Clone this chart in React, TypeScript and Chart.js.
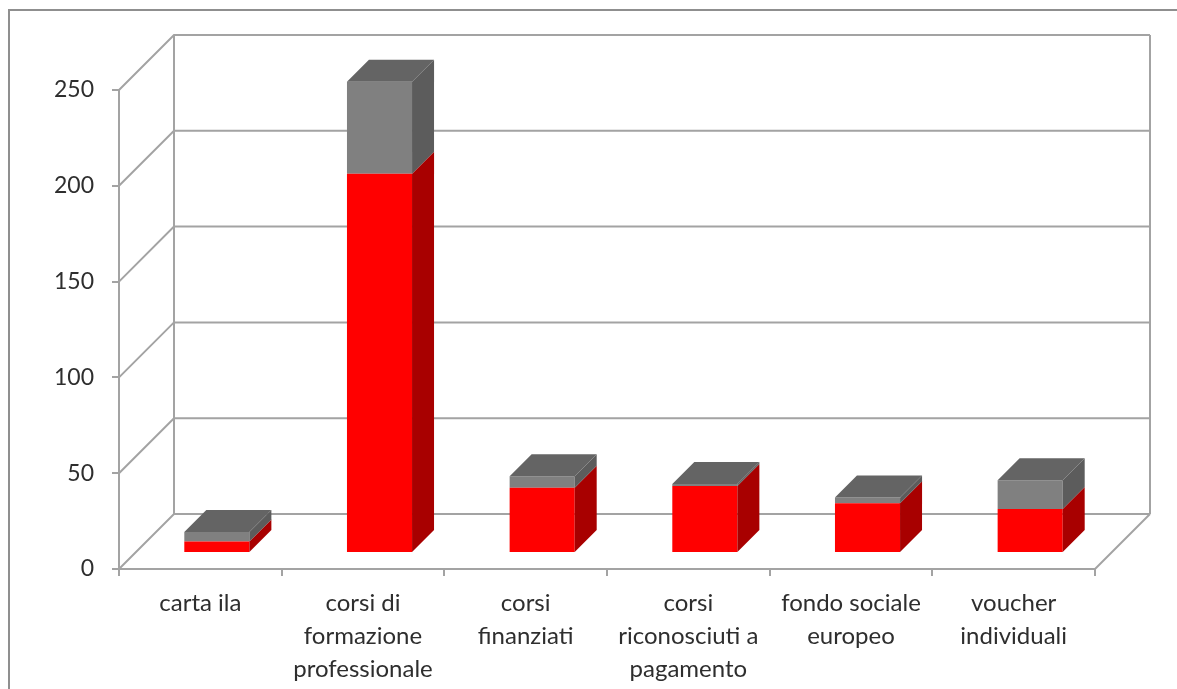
import React, { useEffect, useRef } from "react";
import { Chart, registerables } from "chart.js";

Chart.register(...registerables);

const categories = [
  ["carta ila"],
  ["corsi di", "formazione", "professionale"],
  ["corsi", "finanziati"],
  ["corsi", "riconosciuti a", "pagamento"],
  ["fondo sociale", "europeo"],
  ["voucher", "individuali"],
];
const redValues = [6, 198, 34, 35, 26, 23];
const grayValues = [5, 48, 6, 1, 3, 15];
const yTicks = [0, 50, 100, 150, 200, 250];

const WALL = "#a3a3a3";
const FRAME = "#8f8f8f";
const DEPTH = 55;
const BAR_DEPTH = 22;
const BAR_DX = 16.5;
const BAR_DY = -16;

const line = (ctx: CanvasRenderingContext2D, pts: number[][], color: string, w = 2) => {
  ctx.beginPath();
  pts.forEach((p, i) => (i ? ctx.lineTo(p[0], p[1]) : ctx.moveTo(p[0], p[1])));
  ctx.strokeStyle = color;
  ctx.lineWidth = w;
  ctx.stroke();
};

const poly = (ctx: CanvasRenderingContext2D, pts: number[][], color: string) => {
  ctx.beginPath();
  pts.forEach((p, i) => (i ? ctx.lineTo(p[0], p[1]) : ctx.moveTo(p[0], p[1])));
  ctx.closePath();
  ctx.fillStyle = color;
  ctx.fill();
};

const plugin3d = {
  id: "plugin3d",
  beforeDraw(chart: any) {
    const c = chart.ctx;
    c.save();
    line(c, [[9, 689], [9, 10], [1177, 10]], FRAME, 2);
    c.restore();
  },
  beforeDatasetsDraw(chart: any) {
    const c = chart.ctx;
    const { left, right } = chart.chartArea;
    const y = chart.scales.y;
    const floor = y.getPixelForValue(0);
    const top = y.getPixelForValue(yTicks[yTicks.length - 1]);
    c.save();
    yTicks.forEach((v) => {
      const p = y.getPixelForValue(v);
      line(c, [[left, p], [left + DEPTH, p - DEPTH], [right + DEPTH, p - DEPTH]], WALL);
    });
    line(c, [[left + DEPTH, floor - DEPTH], [left + DEPTH, top - DEPTH]], WALL);
    line(c, [[right + DEPTH, floor - DEPTH], [right + DEPTH, top - DEPTH]], WALL);
    line(c, [[right, floor], [right + DEPTH, floor - DEPTH]], WALL);
    c.restore();
    c.save();
    c.translate(BAR_DX, BAR_DY);
  },
  afterDatasetsDraw(chart: any) {
    const c = chart.ctx;
    const d = BAR_DEPTH;
    const sideColors = ["#a80000", "#5c5c5c"];
    chart.data.datasets.forEach((_: any, di: number) => {
      chart.getDatasetMeta(di).data.forEach((el: any) => {
        const { x, y, base, width } = el.getProps(["x", "y", "base", "width"], true);
        const r = x + width / 2;
        poly(c, [[r, y], [r + d, y - d], [r + d, base - d], [r, base]], sideColors[di]);
      });
    });
    chart.getDatasetMeta(chart.data.datasets.length - 1).data.forEach((el: any) => {
      const { x, y, width } = el.getProps(["x", "y", "width"], true);
      const l = x - width / 2;
      const r = x + width / 2;
      poly(c, [[l, y], [l + d, y - d], [r + d, y - d], [r, y]], "#646464");
    });
    c.restore();
  },
};

export default function App() {
  const ref = useRef<HTMLCanvasElement>(null);
  useEffect(() => {
    document.body.style.margin = "0";
    const chart = new Chart(ref.current as HTMLCanvasElement, {
      type: "bar",
      data: {
        labels: categories as any,
        datasets: [
          { label: "Serie 1", data: redValues, backgroundColor: "#ff0000", barPercentage: 0.4, categoryPercentage: 1, clip: false as any },
          { label: "Serie 2", data: grayValues, backgroundColor: "#808080", barPercentage: 0.4, categoryPercentage: 1, clip: false as any },
        ],
      },
      options: {
        animation: false,
        responsive: false,
        layout: { padding: { top: 90, right: 82, left: 0, bottom: 0 } },
        plugins: { legend: { display: false }, tooltip: { enabled: false }, title: { display: false } },
        scales: {
          x: {
            stacked: true,
            afterFit: (s: any) => { s.height = 120; },
            grid: { drawOnChartArea: false, color: WALL, lineWidth: 2, tickLength: 7, offset: true },
            border: { color: WALL, width: 2 },
            ticks: {
              autoSkip: false,
              maxRotation: 0,
              padding: 11,
              color: "#2e2e2e",
              font: { family: "Lato", size: 24, lineHeight: 1.37 },
            },
          },
          y: {
            stacked: true,
            min: 0,
            max: 250,
            afterFit: (s: any) => { s.width = 119; },
            grid: { drawOnChartArea: false, color: WALL, lineWidth: 2, tickLength: 7 },
            border: { color: WALL, width: 2 },
            ticks: {
              stepSize: 50,
              padding: 18,
              color: "#2e2e2e",
              font: { family: "Lato", size: 23 },
            },
          },
        },
      },
      plugins: [plugin3d as any],
    });
    return () => chart.destroy();
  }, []);
  return <canvas ref={ref} width={1177} height={689} style={{ display: "block" }} />;
}
